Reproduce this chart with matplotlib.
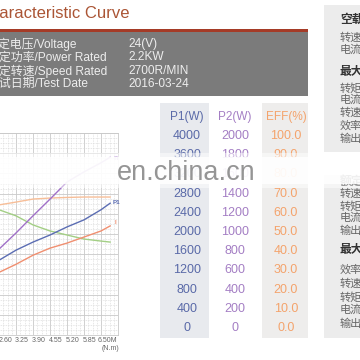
import matplotlib
matplotlib.use("Agg")
import matplotlib.pyplot as plt
from matplotlib.patches import Rectangle
import numpy as np

plt.rcParams['font.family'] = ['Liberation Sans', 'Noto Sans CJK SC', 'DejaVu Sans']

# ---------------- data ----------------
torque = [1.95, 2.60, 3.25, 3.90, 4.55, 5.20, 5.85, 6.20]          # N.m
p1_w = [1480, 1680, 1840, 1980, 2140, 2280, 2480, 2610]           # input power W
p2_w = [850, 1010, 1180, 1345, 1515, 1615, 1705, 1760]            # output power W
eff_pct = [64.4, 65.8, 67.3, 67.8, 68.1, 68.3, 68.3, 68.3]         # efficiency %
speed_rpm = [2480, 2360, 2180, 2060, 1980, 1900, 1860, 1840]       # speed
current_a = [62, 70, 79, 86, 91, 97, 103, 108]                     # current A

xtick_vals = [0.65, 1.30, 1.95, 2.60, 3.25, 3.90, 4.55, 5.20, 5.85, 6.50]
xtick_labels = ["0.65", "1.30", "1.95", "2.60", "3.25", "3.90", "4.55", "5.20", "5.85", "6.50M"]

p1_ticks = [4000, 3600, 3200, 2800, 2400, 2000, 1600, 1200, 800, 400, 0]
p2_ticks = [2000, 1800, 1600, 1400, 1200, 1000, 800, 600, 400, 200, 0]
eff_ticks = [100.0, 90.0, 80.0, 70.0, 60.0, 50.0, 40.0, 30.0, 20.0, 10.0, 0.0]

info_labels = ["额定电压/Voltage", "额定功率/Power Rated", "额定转速/Speed Rated", "测试日期/Test Date"]
info_values = ["24(V)", "2.2KW", "2700R/MIN", "2016-03-24"]

side_box1 = [("空载点", True), ("转速", False), ("电流", False),
             ("最大效率点", True), ("转矩", False), ("电流", False),
             ("转速", False), ("效率", False), ("输出", False)]
side_box2 = [("额定点", True), ("转速", False), ("转矩", False),
             ("电流", False), ("输出", False),
             ("最大输出", True), ("效率", False), ("转速", False),
             ("转矩", False), ("电流", False), ("输出", False)]

# ---------------- figure ----------------
W = H = 360
fig = plt.figure(figsize=(3.6, 3.6), dpi=100)
fig.patch.set_facecolor('white')

# chart axes (left part runs off the figure, as in the reference crop)
left_px, right_px, top_px, bot_px = -52, 118, 133, 335
ax = fig.add_axes([left_px / W, (H - bot_px) / H, (right_px - left_px) / W, (bot_px - top_px) / H])
ax.set_xlim(0, 6.5)
ax.set_ylim(0, 4000)
ax.set_xticks(xtick_vals)
ax.set_xticks(np.arange(0, 6.5001, 0.1625), minor=True)
ax.set_yticks(np.arange(0, 4001, 400))
ax.set_yticks(np.arange(0, 4001, 100), minor=True)
ax.grid(which='major', color='#c9c9c9', lw=0.6)
ax.grid(which='minor', color='#d9d9d9', lw=0.5, ls=(0, (1.2, 1.2)))
ax.tick_params(which='both', length=0, labelbottom=False, labelleft=False)
for s in ax.spines.values():
    s.set_color('#c9c9c9')
    s.set_linewidth(0.6)
ax.set_axisbelow(True)

ax.plot(torque, speed_rpm, color='#a3cf85', lw=1.0)
ax.plot(torque, [e * 40 for e in eff_pct], color='#f7be98', lw=1.0)
ax.plot(torque, [c * 20 for c in current_a], color='#f08f70', lw=1.0)
ax.plot(torque, p1_w, color='#5b6db3', lw=1.0)
ax.plot(torque, [p * 2 for p in p2_w], color='#a070c8', lw=1.0)

ax.annotate('P1', xy=(torque[-1], p1_w[-1]), xytext=(2, 1), textcoords='offset pixels',
            fontsize=4.5, color='#5b6db3', fontweight='bold', ha='left', va='center', annotation_clip=False)
ax.annotate('I', xy=(torque[-1], current_a[-1] * 20), xytext=(4, 3), textcoords='offset pixels',
            fontsize=4.5, color='#f08f70', fontweight='bold', ha='left', va='center', annotation_clip=False)
ax.annotate('n', xy=(torque[-1], p2_w[-1] * 2), xytext=(3, -1), textcoords='offset pixels',
            fontsize=5, color='#a070c8', fontweight='bold', ha='left', va='center', annotation_clip=False)

# x tick labels: only the ones that fall inside the visible crop
for v, lab in zip(xtick_vals, xtick_labels):
    px = ax.transData.transform((v, 0))[0] - 11
    if px < 0:
        continue
    ax.annotate(lab, xy=(v, 0), xycoords=('data', 'axes fraction'), xytext=(-11, -6),
                textcoords='offset pixels', ha='center', va='center', fontsize=5,
                color='#666666', annotation_clip=False)
ax.annotate('(N.m)', xy=(6.5, 0), xycoords=('data', 'axes fraction'), xytext=(-8, -14),
            textcoords='offset pixels', ha='center', va='center', fontsize=5,
            color='#666666', annotation_clip=False)

# ---------------- overlay (pixel coordinates) ----------------
ov = fig.add_axes([0, 0, 1, 1], zorder=5)
ov.set_xlim(0, W)
ov.set_ylim(H, 0)
ov.axis('off')
ov.patch.set_alpha(0)

# title + header band
ov.text(130, 14, "Characteristic Curve", ha='right', va='center', fontsize=12, color='#ab5535')
ov.add_patch(Rectangle((0, 29), 308, 2.6, color='#a53b27', lw=0))
ov.add_patch(Rectangle((0, 31.5), 308, 64.5, color='#7b7b7b', lw=0))
for i, (lab, val) in enumerate(zip(info_labels, info_values)):
    y = 44 + i * 13.4
    ov.text(-13, y, lab, ha='left', va='center', fontsize=8.6, color='#ededed')
    ov.text(128, y, val, ha='left', va='center', fontsize=8.6, color='#ededed')

# table
ov.add_patch(Rectangle((160, 103), 49, 235, color='#e8eaee', lw=0))
ov.add_patch(Rectangle((262, 103), 46, 235, color='#eeedec', lw=0))
col_x = [187, 235, 286]
col_c = ['#5a6aa8', '#a47ec4', '#f4a36c']
for x, c, h in zip(col_x, col_c, ["P1(W)", "P2(W)", "EFF(%)"]):
    ov.text(x, 117, h, ha='center', va='center', fontsize=8.5, color=c)
for i, (a, b, e) in enumerate(zip(p1_ticks, p2_ticks, eff_ticks)):
    y = 136 + i * 19.2
    ov.text(col_x[0], y, f"{a}", ha='center', va='center', fontsize=9, color=col_c[0])
    ov.text(col_x[1], y, f"{b}", ha='center', va='center', fontsize=9, color=col_c[1])
    ov.text(col_x[2], y, f"{e:.1f}", ha='center', va='center', fontsize=9, color=col_c[2])

# right side panels
ov.add_patch(Rectangle((324, 5), 40, 147, color='#ececec', lw=0))
ov.add_patch(Rectangle((324, 175), 40, 163, color='#ececec', lw=0))
ys1 = [20, 38, 50, 72, 88, 100, 113, 126, 139]
for (t, b), y in zip(side_box1, ys1):
    ov.text(340, y, t, ha='left', va='center', fontsize=8.5 if b else 8,
            fontweight='bold' if b else 'normal', color='#333333' if b else '#666666')
ys2 = [182, 194, 206, 218, 231, 250, 270, 284, 297, 310, 324]
for (t, b), y in zip(side_box2, ys2):
    ov.text(340, y, t, ha='left', va='center', fontsize=8.5 if b else 8,
            fontweight='bold' if b else 'normal', color='#333333' if b else '#666666')

# watermark band (drawn above everything)
ov.add_patch(Rectangle((0, 153), W, 4, color='white', alpha=0.5, lw=0, zorder=10))
ov.add_patch(Rectangle((0, 184), W, 4, color='white', alpha=0.5, lw=0, zorder=10))
ov.add_patch(Rectangle((0, 157), W, 27, color='white', alpha=0.93, lw=0, zorder=10))
ov.text(117, 180, "en.china.cn", ha='left', va='baseline', fontsize=19.5, color='#959595', zorder=11)

fig.savefig("out.png", dpi=100)
